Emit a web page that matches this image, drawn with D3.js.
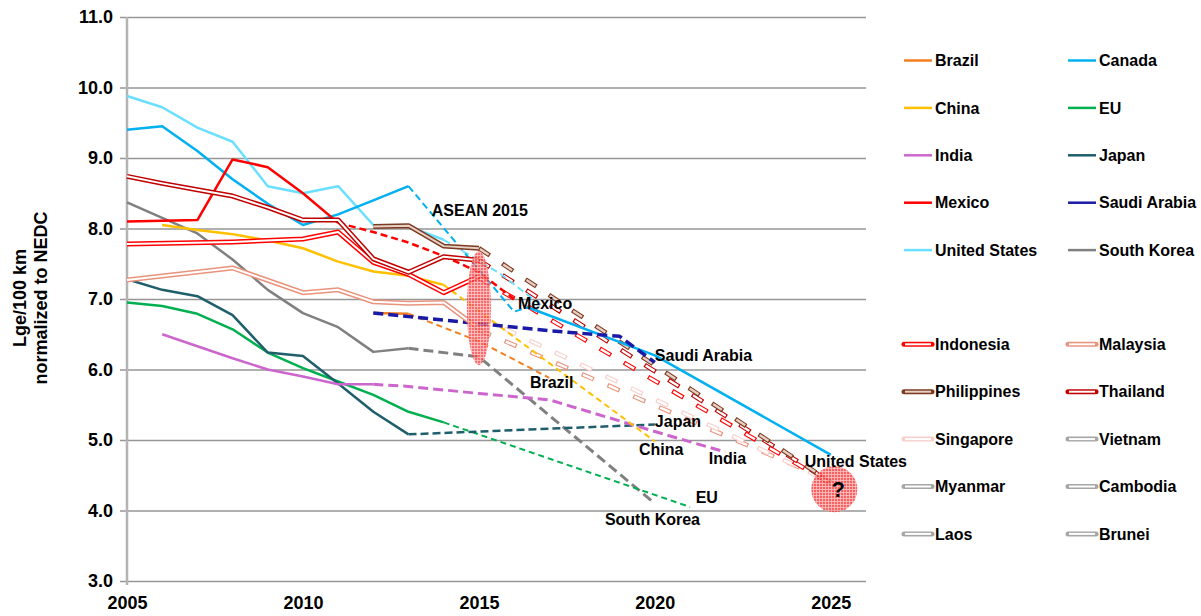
<!DOCTYPE html>
<html>
<head>
<meta charset="utf-8">
<script src="https://cdn.jsdelivr.net/npm/d3@7"></script>
<style>
  body { margin: 0; background: #fff; }
  text { font-family: "Liberation Sans", Arial, sans-serif; font-weight: bold; fill: #000; }
</style>
</head>
<body>
<div id="chart"></div>
<script>
"use strict";

/* Tick values */
const xTicks = [2005, 2010, 2015, 2020, 2025];
const yTicks = [3, 4, 5, 6, 7, 8, 9, 10, 11];

/* Series data: [year, Lge/100 km] */
const brazilActual = [[2012, 6.8], [2013, 6.79]];
const brazilTarget = [[2013, 6.79], [2015, 6.4], [2017, 5.88]];

const canadaActual = [[2005, 9.4], [2006, 9.45], [2007, 9.1], [2008, 8.7], [2009, 8.35],
  [2010, 8.05], [2011, 8.2], [2012, 8.4], [2013, 8.6]];
const canadaTarget = [[2013, 8.6], [2016, 6.82], [2016.4, 6.88]];
const northAmericaTarget = [[2016.4, 6.88], [2020, 6.2], [2025, 4.79]];

const chinaActual = [[2006, 8.05], [2007, 7.98], [2008, 7.92], [2009, 7.83], [2010, 7.72],
  [2011, 7.53], [2012, 7.39], [2013, 7.33], [2014, 7.2]];
const chinaTarget = [[2014, 7.2], [2020, 4.98]];

const euActual = [[2005, 6.95], [2006, 6.9], [2007, 6.79], [2008, 6.57], [2009, 6.24],
  [2010, 6.02], [2011, 5.83], [2012, 5.64], [2013, 5.4], [2014, 5.25]];
const euTarget = [[2014, 5.25], [2021, 4.05]];

const indiaActual = [[2006, 6.5], [2007, 6.33], [2008, 6.16], [2009, 6.0], [2010, 5.9],
  [2011, 5.79], [2012, 5.79]];
const indiaTarget = [[2012, 5.79], [2013, 5.76], [2015, 5.66], [2017, 5.57], [2020, 5.12], [2022, 4.83]];

const japanActual = [[2005, 7.28], [2006, 7.13], [2007, 7.04], [2008, 6.77], [2009, 6.24],
  [2010, 6.19], [2011, 5.8], [2012, 5.4], [2013, 5.08]];
const japanTarget = [[2013, 5.08], [2020, 5.22]];

const mexicoActual = [[2005, 8.1], [2006, 8.11], [2007, 8.12], [2008, 8.98], [2009, 8.87],
  [2010, 8.5], [2011, 8.08]];
const mexicoTarget = [[2011, 8.08], [2012, 7.95], [2013, 7.8], [2014, 7.61], [2015, 7.38], [2016, 7.0]];

const saudiTarget = [[2012, 6.8], [2013, 6.75], [2015, 6.65], [2017, 6.55], [2019, 6.47], [2020, 6.1]];

const usActual = [[2005, 9.88], [2006, 9.72], [2007, 9.43], [2008, 9.23], [2009, 8.6],
  [2010, 8.5], [2011, 8.6], [2012, 8.05], [2013, 8.03], [2014, 7.84]];
const usTarget = [[2014, 7.84], [2015.6, 7.36], [2016.8, 6.9]];

const koreaActual = [[2005, 8.37], [2006, 8.15], [2007, 7.93], [2008, 7.56], [2009, 7.13],
  [2010, 6.8], [2011, 6.6], [2012, 6.25], [2013, 6.3]];
const koreaTarget = [[2013, 6.3], [2015, 6.18], [2020, 4.1]];

const indonesiaActual = [[2005, 7.78], [2008, 7.81], [2010, 7.85], [2011, 7.95], [2012, 7.52],
  [2013, 7.35], [2014, 7.09], [2015, 7.32]];
const malaysiaActual = [[2005, 7.27], [2008, 7.44], [2010, 7.09], [2011, 7.13], [2012, 6.96],
  [2013, 6.94], [2014, 6.95], [2015, 6.58]];
const philippinesActual = [[2012, 8.03], [2013, 8.04], [2014, 7.75], [2015, 7.72]];
const thailandActual = [[2005, 8.74], [2006, 8.64], [2007, 8.55], [2008, 8.46], [2009, 8.3],
  [2010, 8.12], [2011, 8.12], [2012, 7.57], [2013, 7.38], [2014, 7.6], [2015, 7.55]];

const aseanTargets = {
  Philippines: [[2015, 7.72], [2025, 4.4]],
  Thailand: [[2015, 7.55], [2025, 4.4]],
  Indonesia: [[2015, 7.3], [2025, 4.38]],
  Singapore: [[2015, 6.75], [2025, 4.4]],
  Malaysia: [[2015, 6.56], [2025, 4.42]]
};

/* Legend */
const legendSingle = ["Brazil", "Canada", "China", "EU", "India", "Japan", "Mexico",
  "Saudi Arabia", "United States", "South Korea"];
const legendDouble = ["Indonesia", "Malaysia", "Philippines", "Thailand", "Singapore",
  "Vietnam", "Myanmar", "Cambodia", "Laos", "Brunei"];

/* Colours */
const colors = {
  "Brazil": "#F47F20", "Canada": "#00B0F0", "China": "#FFC000", "EU": "#00B050",
  "India": "#CC66CC", "Japan": "#1F5E6B", "Mexico": "#FF0000", "Saudi Arabia": "#1A1AA6",
  "United States": "#6ADFFF", "South Korea": "#808080"
};
const doubleColors = {
  "Indonesia": ["#FF0000", "#ffffff"], "Malaysia": ["#E9937D", "#ffffff"],
  "Philippines": ["#7B3B22", "#E8CFC4"], "Thailand": ["#C00000", "#ffffff"],
  "Singapore": ["#F8D0CB", "#ffffff"], "Vietnam": ["#A6A6A6", "#ffffff"],
  "Myanmar": ["#A6A6A6", "#ffffff"], "Cambodia": ["#A6A6A6", "#ffffff"],
  "Laos": ["#A6A6A6", "#ffffff"], "Brunei": ["#A6A6A6", "#ffffff"]
};

/* Drawing setup */
const svgWidth = 1201;
const svgHeight = 616;
const plotLeft = 127;
const plotRight = 866;
const plotTop = 17;
const plotBottom = 581;

const svg = d3.select("#chart").append("svg")
  .attr("width", svgWidth)
  .attr("height", svgHeight);

const xScale = d3.scaleLinear().domain([2005, 2026]).range([plotLeft, plotRight]);
const yScale = d3.scaleLinear().domain([3, 11]).range([plotBottom, plotTop]);

const line = d3.line()
  .x(function (d) { return xScale(d[0]); })
  .y(function (d) { return yScale(d[1]); });

/* Hatched pattern for the ASEAN ellipse and the question circle */
const defs = svg.append("defs");
const pat = defs.append("pattern")
  .attr("id", "hatch")
  .attr("width", 3).attr("height", 3)
  .attr("patternUnits", "userSpaceOnUse");
pat.append("rect").attr("width", 3).attr("height", 3).attr("fill", "#F43C3C");
pat.append("path").attr("d", "M0,0.5H3M0.5,0V3")
  .attr("stroke", "#FFB4B4").attr("stroke-width", 0.8);

/* Gridlines and y axis */
const yAxis = d3.axisLeft(yScale)
  .tickValues(yTicks)
  .tickSize(-(plotRight - plotLeft))
  .tickPadding(14)
  .tickFormat(d3.format(".1f"));

const yAxisG = svg.append("g")
  .attr("transform", "translate(" + plotLeft + ",0)")
  .call(yAxis);
yAxisG.select(".domain").remove();
yAxisG.selectAll(".tick line")
  .attr("x1", -7)
  .attr("stroke", "#969696")
  .attr("stroke-width", 1.5);
yAxisG.selectAll(".tick text")
  .attr("font-size", "18px")
  .attr("font-family", "Liberation Sans, Arial, sans-serif")
  .attr("font-weight", "bold")
  .attr("fill", "#000");

svg.append("line")
  .attr("x1", plotLeft).attr("x2", plotLeft)
  .attr("y1", plotTop).attr("y2", plotBottom + 4)
  .attr("stroke", "#B4B4B4").attr("stroke-width", 2.5);

/* x axis labels */
const xAxis = d3.axisBottom(xScale)
  .tickValues(xTicks)
  .tickSize(0)
  .tickPadding(15)
  .tickFormat(d3.format("d"));
const xAxisG = svg.append("g")
  .attr("transform", "translate(0," + plotBottom + ")")
  .call(xAxis);
xAxisG.select(".domain").remove();
xAxisG.selectAll(".tick text")
  .attr("font-size", "18px")
  .attr("font-family", "Liberation Sans, Arial, sans-serif")
  .attr("font-weight", "bold")
  .attr("fill", "#000");

/* Axis title */
const yTitle = svg.append("text")
  .attr("transform", "translate(31,298) rotate(-90)")
  .attr("text-anchor", "middle")
  .attr("font-size", "18px");
yTitle.append("tspan").attr("x", 0).attr("dy", "-0.3em").text("Lge/100 km");
yTitle.append("tspan").attr("x", 0).attr("dy", "1.2em").text("normalized to NEDC");

/* Plot lines */
const plot = svg.append("g")
  .attr("fill", "none")
  .attr("stroke-linejoin", "round");

function drawLine(data, color, width, dash) {
  plot.append("path")
    .datum(data)
    .attr("d", line)
    .attr("stroke", color)
    .attr("stroke-width", width)
    .attr("stroke-dasharray", dash || null);
}

function drawDouble(data, name, dashed) {
  let c = doubleColors[name];
  plot.append("path")
    .datum(data)
    .attr("d", line)
    .attr("stroke", c[0])
    .attr("stroke-width", dashed ? 4.5 : 5)
    .attr("stroke-dasharray", dashed ? "13,15" : null);
  plot.append("path")
    .datum(data)
    .attr("d", line)
    .attr("stroke", c[1])
    .attr("stroke-width", dashed ? 2.4 : 2)
    .attr("stroke-dasharray", dashed ? "10.6,17.4" : null)
    .attr("stroke-dashoffset", dashed ? -1.2 : null);
}

// ASEAN targets (dashed double lines)
drawDouble(aseanTargets.Malaysia, "Malaysia", true);
drawDouble(aseanTargets.Singapore, "Singapore", true);
drawDouble(aseanTargets.Indonesia, "Indonesia", true);
drawDouble(aseanTargets.Thailand, "Thailand", true);
drawDouble(aseanTargets.Philippines, "Philippines", true);

// single-line countries
drawLine(usActual, colors["United States"], 2.5);
drawLine(usTarget, colors["United States"], 2, "7,4");
drawLine(canadaActual, colors["Canada"], 2.5);
drawLine(canadaTarget, colors["Canada"], 2, "7,4");
drawLine(northAmericaTarget, colors["Canada"], 2.5);
drawLine(koreaActual, colors["South Korea"], 2.5);
drawLine(koreaTarget, colors["South Korea"], 3, "10,5");
drawLine(euActual, colors["EU"], 2.5);
drawLine(euTarget, colors["EU"], 2, "6,4");
drawLine(japanActual, colors["Japan"], 2.5);
drawLine(japanTarget, colors["Japan"], 2.5, "8,4");
drawLine(indiaActual, colors["India"], 2.5);
drawLine(indiaTarget, colors["India"], 3, "10,5");
drawLine(chinaActual, colors["China"], 2.5);
drawLine(chinaTarget, colors["China"], 2, "6,4");
drawLine(brazilActual, colors["Brazil"], 2.5);
drawLine(brazilTarget, colors["Brazil"], 2, "6,4");
drawLine(saudiTarget, colors["Saudi Arabia"], 3.5, "10,5");
drawLine(mexicoActual, colors["Mexico"], 2.5);
drawLine(mexicoTarget, colors["Mexico"], 2.5, "7,4");

// ASEAN history (double lines)
drawDouble(malaysiaActual, "Malaysia", false);
drawDouble(indonesiaActual, "Indonesia", false);
drawDouble(thailandActual, "Thailand", false);
drawDouble(philippinesActual, "Philippines", false);

/* ASEAN 2015 ellipse and 2025 question circle */
svg.append("ellipse")
  .attr("cx", xScale(2015))
  .attr("cy", yScale(6.87))
  .attr("rx", 12)
  .attr("ry", 57)
  .attr("fill", "url(#hatch)")
  .attr("opacity", 0.75);

svg.append("circle")
  .attr("cx", xScale(2025.1))
  .attr("cy", yScale(4.3))
  .attr("r", 23)
  .attr("fill", "url(#hatch)")
  .attr("opacity", 0.8);

svg.append("text")
  .attr("x", xScale(2025.1) + 4)
  .attr("y", yScale(4.3) + 8)
  .attr("text-anchor", "middle")
  .attr("font-size", "22px")
  .text("?");

/* Annotations */
const notes = [
  ["ASEAN 2015", 2013.66, 8.26], ["Mexico", 2016.11, 6.94], ["Saudi Arabia", 2020.0, 6.2],
  ["Brazil", 2016.45, 5.82], ["Japan", 2020.0, 5.27], ["China", 2019.55, 4.87],
  ["India", 2021.53, 4.74], ["United States", 2024.26, 4.7], ["EU", 2021.16, 4.18],
  ["South Korea", 2018.58, 3.87]
];
notes.forEach(function (n) {
  svg.append("text")
    .attr("x", xScale(n[1]))
    .attr("y", yScale(n[2]))
    .attr("dy", "0.35em")
    .attr("font-size", "16px")
    .text(n[0]);
});

/* Legend */
let legendCols = [904, 1068];
let legendRows1 = 60.5;
let legendRows2 = 344.3;
let rowStep = 47.4;

legendSingle.forEach(function (name, i) {
  let lx = legendCols[i % 2];
  let ly = legendRows1 + Math.floor(i / 2) * rowStep;
  svg.append("line")
    .attr("x1", lx).attr("x2", lx + 28)
    .attr("y1", ly).attr("y2", ly)
    .attr("stroke", colors[name])
    .attr("stroke-width", 2.5);
  svg.append("text")
    .attr("x", lx + 31)
    .attr("y", ly)
    .attr("dy", "0.35em")
    .attr("font-size", "16px")
    .text(name);
});

legendDouble.forEach(function (name, i) {
  let lx = legendCols[i % 2];
  let ly = legendRows2 + Math.floor(i / 2) * rowStep;
  let c = doubleColors[name];
  svg.append("line")
    .attr("x1", lx).attr("x2", lx + 28)
    .attr("y1", ly).attr("y2", ly)
    .attr("stroke", c[0]).attr("stroke-width", 5)
    .attr("stroke-linecap", "round");
  svg.append("line")
    .attr("x1", lx + 1).attr("x2", lx + 27)
    .attr("y1", ly).attr("y2", ly)
    .attr("stroke", c[1]).attr("stroke-width", 2);
  svg.append("text")
    .attr("x", lx + 31)
    .attr("y", ly)
    .attr("dy", "0.35em")
    .attr("font-size", "16px")
    .text(name);
});
</script>
</body>
</html>
